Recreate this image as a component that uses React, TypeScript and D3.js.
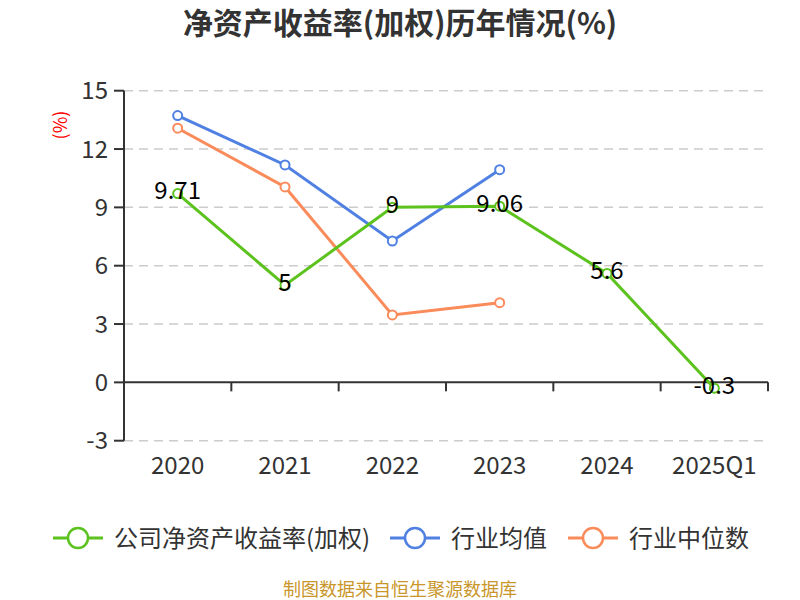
import React from "react";
import * as d3 from "d3";

const categories = ["2020", "2021", "2022", "2023", "2024", "2025Q1"];
const companyValues: (number | null)[] = [9.71, 5, 9, 9.06, 5.6, -0.3];
const industryMean: (number | null)[] = [13.72, 11.18, 7.27, 10.94, null, null];
const industryMedian: (number | null)[] = [13.07, 10.05, 3.47, 4.1, null, null];
const yTicks = [-3, 0, 3, 6, 9, 12, 15];

const seriesNames = ["公司净资产收益率(加权)", "行业均值", "行业中位数"];
const seriesColors = ["#5cc21e", "#4f80e2", "#fa8b5a"];

const FONT = "'Noto Sans CJK SC', 'Noto Sans', sans-serif";

export default function App() {
  const W = 800;
  const H = 600;
  const left = 124;
  const right = 768;
  const top = 90.7;
  const bottom = 440.7;

  const x = d3.scaleBand<string>().domain(categories).range([left, right]);
  const y = d3.scaleLinear().domain([-3, 15]).range([bottom, top]);
  const cx = (c: string) => (x(c) as number) + x.bandwidth() / 2;

  const line = d3
    .line<[string, number | null]>()
    .defined((d) => d[1] !== null)
    .x((d) => cx(d[0]))
    .y((d) => y(d[1] as number));

  const allSeries = [companyValues, industryMean, industryMedian];
  const drawOrder = [1, 2, 0];

  const legendIconX = [53, 390, 568];

  return (
    <svg width={W} height={H} style={{ position: "absolute", left: 0, top: 0 }} fontFamily={FONT}>
      <rect width={W} height={H} fill="#fff" />
      <text x={400} y={34} textAnchor="middle" fontSize={30} fontWeight="bold" fill="#333">
        净资产收益率(加权)历年情况(%)
      </text>
      <text
        transform={`translate(67,125) rotate(-90)`}
        textAnchor="middle"
        fontSize={18}
        fill="#ff0000"
      >
        (%)
      </text>
      {yTicks
        .filter((t) => t !== 0)
        .map((t) => (
          <line
            key={"g" + t}
            x1={left}
            x2={right}
            y1={y(t)}
            y2={y(t)}
            stroke="#cccccc"
            strokeWidth={1.5}
            strokeDasharray="9,6"
          />
        ))}
      <line x1={left} x2={left} y1={top} y2={bottom} stroke="#333" strokeWidth={2} />
      {yTicks.map((t) => (
        <g key={"t" + t}>
          <line x1={left - 10} x2={left} y1={y(t)} y2={y(t)} stroke="#333" strokeWidth={2} />
          <text x={left - 16} y={y(t)} dy="0.36em" textAnchor="end" fontSize={24} fill="#333">
            {t}
          </text>
        </g>
      ))}
      <line x1={left} x2={right} y1={y(0)} y2={y(0)} stroke="#333" strokeWidth={2} />
      {categories.map((c) => (
        <g key={"x" + c}>
          <line
            x1={(x(c) as number) + x.bandwidth()}
            x2={(x(c) as number) + x.bandwidth()}
            y1={y(0)}
            y2={y(0) + 9}
            stroke="#333"
            strokeWidth={2}
          />
          <text x={cx(c)} y={465} dy="0.36em" textAnchor="middle" fontSize={24} fill="#333">
            {c}
          </text>
        </g>
      ))}
      {drawOrder.map((si) => {
        const data = categories.map((c, i) => [c, allSeries[si][i]] as [string, number | null]);
        return (
          <g key={"s" + si}>
            <path d={line(data) || ""} fill="none" stroke={seriesColors[si]} strokeWidth={3} />
            {data
              .filter((d) => d[1] !== null)
              .map((d) => (
                <circle
                  key={d[0]}
                  cx={cx(d[0])}
                  cy={y(d[1] as number)}
                  r={4.5}
                  fill="#fff"
                  stroke={seriesColors[si]}
                  strokeWidth={2}
                />
              ))}
          </g>
        );
      })}
      {categories.map((c, i) => (
        <text
          key={"l" + c}
          x={cx(c)}
          y={y(companyValues[i] as number) - 3}
          dy="0.36em"
          textAnchor="middle"
          fontSize={24}
          fill="#000"
        >
          {companyValues[i]}
        </text>
      ))}
      {seriesNames.map((n, i) => (
        <g key={"lg" + i}>
          <line
            x1={legendIconX[i]}
            x2={legendIconX[i] + 50}
            y1={538}
            y2={538}
            stroke={seriesColors[i]}
            strokeWidth={3}
          />
          <circle cx={legendIconX[i] + 25} cy={538} r={10} fill="#fff" stroke={seriesColors[i]} strokeWidth={2.5} />
          <text x={legendIconX[i] + 61} y={538} dy="0.36em" fontSize={24} fill="#333">
            {n}
          </text>
        </g>
      ))}
      <text x={400} y={590} dy="0.36em" textAnchor="middle" fontSize={18} fill="#c9962a">
        制图数据来自恒生聚源数据库
      </text>
    </svg>
  );
}
